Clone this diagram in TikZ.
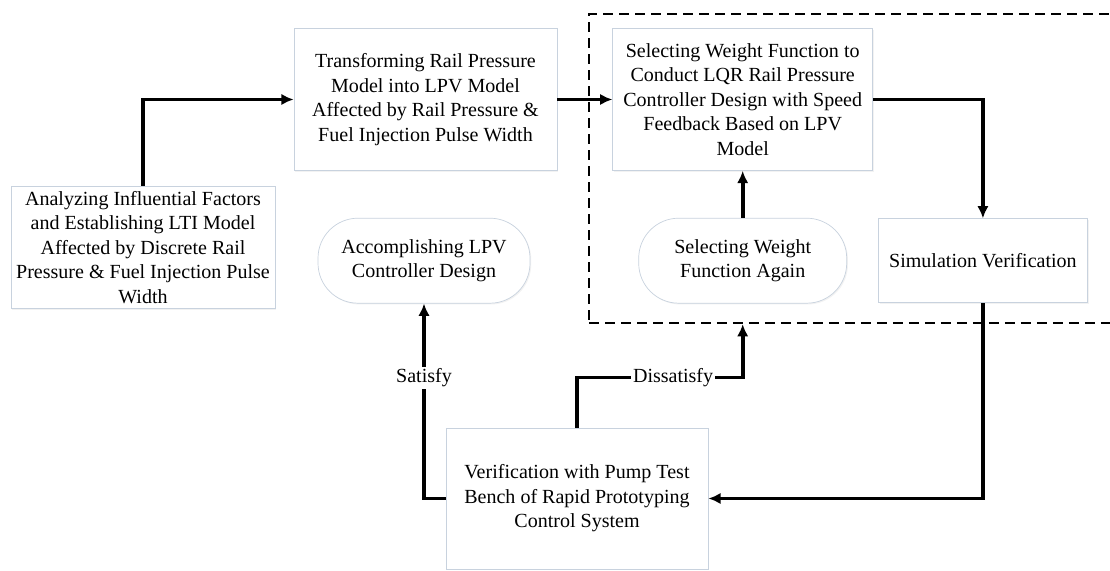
\documentclass[tikz,border=0pt]{standalone}
\usepackage{fontspec}
\setmainfont{Liberation Serif}
\usepackage{tikz}
\usetikzlibrary{positioning,arrows.meta,shadows}

\definecolor{boxline}{RGB}{200,210,222}

\begin{document}
\begin{tikzpicture}[
  font=\fontsize{11.4}{13.9}\selectfont,
  box/.style={draw=boxline,fill=white,align=center,inner sep=3pt,
    drop shadow={shadow xshift=0.7pt,shadow yshift=-0.7pt,fill=black!10}},
  roundbox/.style={box,rounded corners=0.8cm},
  arr/.style={-{Latex[length=7pt,width=6.5pt]},line width=2.1pt},
  dashbox/.style={draw,dash pattern=on 5.7pt off 3.4pt,line width=1.2pt,inner sep=0pt},
  lbl/.style={fill=white,inner sep=1pt}
]
\useasboundingbox (0,0) rectangle (22.2,11.4);

% dashed design loop
\node[dashbox, anchor=north west, minimum width=10.9cm, minimum height=6.18cm] (loop) at (11.76,11.14) {};

\node[box, minimum width=5.24cm, minimum height=2.30cm] (lti) at (2.86,6.45)
  {Analyzing Influential Factors\\and Establishing LTI Model\\Affected by Discrete Rail\\Pressure \& Fuel Injection Pulse\\Width};
\node[box, minimum width=5.26cm, minimum height=2.84cm] (lpv) at (8.51,9.41)
  {Transforming Rail Pressure\\Model into LPV Model\\Affected by Rail Pressure \&\\Fuel Injection Pulse Width};
\node[box, right=11mm of lpv, minimum width=5.2cm, minimum height=2.84cm] (lqr)
  {Selecting Weight Function to\\Conduct LQR Rail Pressure\\Controller Design with Speed\\Feedback Based on LPV\\Model};
\node[roundbox, below=9.4mm of lqr, minimum width=4.16cm, minimum height=1.7cm] (again)
  {Selecting Weight\\Function Again};
\node[box, right=6.2mm of again, minimum width=4.18cm, minimum height=1.68cm] (sim)
  {Simulation Verification};
\node[roundbox, left=21.6mm of again, minimum width=4.24cm, minimum height=1.7cm] (done)
  {Accomplishing LPV\\Controller Design};
\node[box, minimum width=5.24cm, minimum height=2.82cm] (pump) at (11.54,1.43)
  {Verification with Pump Test\\Bench of Rapid Prototyping\\Control System};

\coordinate (dis) at (again.south |- loop.south);

\draw[arr] (lti.north) |- (lpv.west);
\draw[arr] (lpv) -- (lqr);
\draw[arr] (lqr.east) -| (sim.north);
\draw[arr] (again) -- (lqr);
\draw[arr] (sim.south) |- (pump.east);
\draw[arr] (pump.west) -| node[lbl, pos=0.81]{Satisfy} (done.south);
\draw[arr] (pump.north) -- ++(0,1) -| node[lbl, pos=0.29]{Dissatisfy} (dis);
\end{tikzpicture}
\end{document}
